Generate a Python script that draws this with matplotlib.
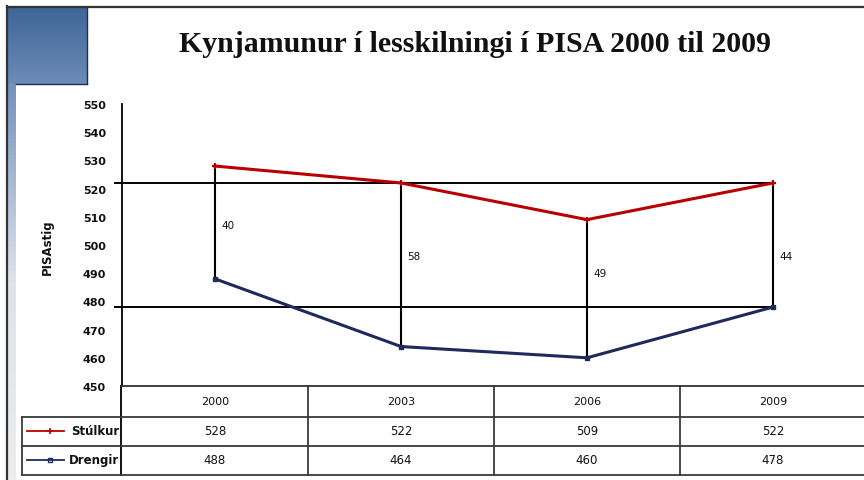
import matplotlib
matplotlib.use('Agg')
import matplotlib.pyplot as plt
import matplotlib.transforms as mtransforms
from matplotlib.colors import LinearSegmentedColormap
import numpy as np

# ---------------- data ----------------
years = ['2000', '2003', '2006', '2009']
girls = [528, 522, 509, 522]
boys = [488, 464, 460, 478]
series_names = ['Stúlkur', 'Drengir']
yticks = [450, 460, 470, 480, 490, 500, 510, 520, 530, 540, 550]
ref_levels = [522, 478]
title = 'Kynjamunur í lesskilningi í PISA 2000 til 2009'
ylabel = 'PISAstig'
diffs = [g - b for g, b in zip(girls, boys)]

# ---------------- layout ----------------
W, H = 864, 481
fig = plt.figure(figsize=(W / 100, H / 100), dpi=100)
fig.patch.set_facecolor('white')

ov = fig.add_axes([0, 0, 1, 1], zorder=0)
ov.set_xlim(0, W)
ov.set_ylim(H, 0)
ov.axis('off')

# decoration: blue corner block with gradient and strip
cm1 = LinearSegmentedColormap.from_list('b1', ['#3f6597', '#6c8cb6'])
grad = np.linspace(0, 1, 100).reshape(-1, 1)
ov.imshow(grad, extent=[8, 87, 85, 9], aspect='auto', cmap=cm1, zorder=1)
cm2 = LinearSegmentedColormap.from_list('b2', ['#7592bb', '#dfe3ea', '#ececec'])
ov.imshow(grad, extent=[8, 16, H, 85], aspect='auto', cmap=cm2, zorder=1)
ov.plot([87, 87], [9, 85], color='#1b2c5e', lw=1.0, zorder=2)
ov.plot([16, 87], [85, 85], color='#1b2c5e', lw=1.0, zorder=2)
ov.set_xlim(0, W)
ov.set_ylim(H, 0)
# frame lines
ov.plot([7, W], [8, 8], color='#333333', lw=1.6, zorder=3)
ov.plot([7, 7], [7, H], color='#333333', lw=1.6, zorder=3)

small = dict(family='DejaVu Sans', color='#111111')

# main axes
ax_left, ax_right, ax_top, ax_bot = 122, 866, 105, 387
ax = fig.add_axes([ax_left / W, 1 - ax_bot / H, (ax_right - ax_left) / W, (ax_bot - ax_top) / H], zorder=2)
ax.patch.set_alpha(0)
ax.set_xlim(-0.5, len(years) - 0.5)
ax.set_ylim(450, 550)
for s in ['top', 'right']:
    ax.spines[s].set_visible(False)
ax.spines['left'].set_color('black')
ax.spines['left'].set_linewidth(1.3)
ax.spines['bottom'].set_color('#333333')
ax.spines['bottom'].set_linewidth(1.3)
ax.set_yticks(yticks)
ax.set_yticklabels([str(t) for t in yticks], fontsize=8, weight='bold', **small)
ax.tick_params(axis='y', length=0, pad=11.5)
ax.set_xticks([])

x = np.arange(len(years))
# reference lines
for lvl in ref_levels:
    ax.plot([-0.538, x[-1]], [lvl, lvl], color='black', lw=1.4, clip_on=False, zorder=2)
# high-low lines
ax.vlines(x, boys, girls, color='black', lw=1.5, zorder=3)
# series
ax.plot(x, girls, color='#b80000', lw=2.2, marker='+', ms=5, mew=1.5, zorder=4)
ax.plot(x, boys, color='#1f2a5c', lw=2.2, marker='s', ms=3.2, mfc='#1f2a5c', zorder=4)

# difference labels
label_y = [507, 496, 490, 496]
for xi, d, ly in zip(x, diffs, label_y):
    ax.text(xi + 0.035, ly, str(d), fontsize=7.5, ha='left', va='center', **small)

# title and y label
fig.text(475 / W, 1 - 45 / H, title, ha='center', va='center', family='Liberation Serif',
         weight='bold', fontsize=21.5, color='#111111')
fig.text(47 / W, 1 - 247 / H, ylabel, rotation=90, ha='center', va='center', fontsize=8.5,
         weight='bold', **small)

# ---------------- data table ----------------
tc = '#3a3a3a'
lwT = 1.3
ov.plot([121, 121], [387, 476], color='black', lw=1.3, zorder=3)
for yy, x0 in [(418, 22), (447, 22), (476, 22)]:
    ov.plot([x0, W], [yy, yy], color=tc, lw=lwT, zorder=3)
ov.plot([22, 22], [418, 476], color=tc, lw=lwT, zorder=3)
blend = mtransforms.blended_transform_factory(ax.transData, ov.transData)
for xb in x[:-1] + 0.5:
    ov.plot([xb, xb], [387, 476], color=tc, lw=lwT, transform=blend, zorder=3)

row_y = [402, 432, 461]
for xi, yr in zip(x, years):
    ov.text(xi, row_y[0], yr, transform=blend, ha='center', va='center', fontsize=8, **small)
for xi, g, b in zip(x, girls, boys):
    ov.text(xi, row_y[1], str(g), transform=blend, ha='center', va='center', fontsize=8.5, **small)
    ov.text(xi, row_y[2], str(b), transform=blend, ha='center', va='center', fontsize=8.5, **small)

# legend keys inside table
ov.plot([27, 64], [row_y[1], row_y[1]], color='#b80000', lw=1.3, zorder=4)
ov.plot([50], [row_y[1]], color='#b80000', marker='+', ms=4, mew=1.2, zorder=4)
ov.plot([27, 64], [row_y[2], row_y[2]], color='#1f2a5c', lw=1.3, zorder=4)
ov.plot([50], [row_y[2]], color='#1f2a5c', marker='s', ms=3, mfc='none', mew=1.0, zorder=4)
ov.text(119, row_y[1], series_names[0], ha='right', va='center', fontsize=8.5, weight='bold', **small)
ov.text(119, row_y[2], series_names[1], ha='right', va='center', fontsize=8.5, weight='bold', **small)

ov.set_xlim(0, W)
ov.set_ylim(H, 0)
fig.savefig('out.png', dpi=100)
